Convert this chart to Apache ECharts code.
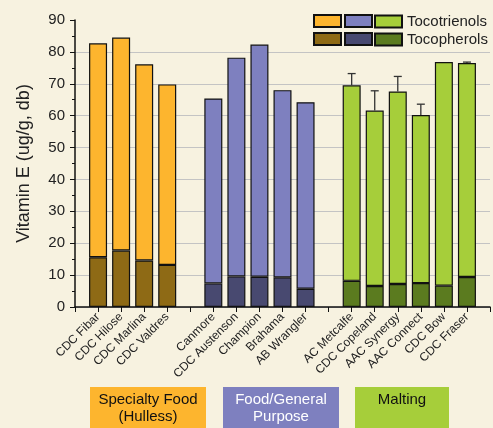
<!DOCTYPE html>
<html>
<head>
<meta charset="utf-8">
<style>html,body{margin:0;padding:0;background:#f7f2e0;}#c{width:493px;height:428px;}</style>
<script src="https://cdn.jsdelivr.net/npm/echarts@6/dist/echarts.min.js"></script>
</head>
<body>
<div id="c"></div>
<script>
const categories = ['', 'CDC Fibar', 'CDC Hilose', 'CDC Marlina', 'CDC Valdres', '',
  'Canmore', 'CDC Austenson', 'Champion', 'Brahama', 'AB Wrangler', '',
  'AC Metcalfe', 'CDC Copeland', 'AAC Synergy', 'AAC Connect', 'CDC Bow', 'CDC Fraser', ''];
const groupOf = [-1, 0, 0, 0, 0, -1, 1, 1, 1, 1, 1, -1, 2, 2, 2, 2, 2, 2, -1];
const tocopherols = [null, 15.6, 17.7, 14.6, 13.2, null, 7.4, 9.6, 9.5, 9.3, 5.7, null, 8.2, 6.6, 7.2, 7.5, 6.7, 9.4, null];
const tocotrienols = [null, 67.1, 66.8, 61.5, 56.6, null, 58.0, 68.6, 72.8, 58.7, 58.5, null, 61.3, 55.0, 60.4, 52.7, 70.1, 67.1, null];
const errorUpper = [null, null, null, null, null, null, null, null, null, null, null, null, 3.7, 6.2, 4.7, 3.4, 0, 0.3, null];
const groupNames = ['Specialty', 'Food', 'Malting'];
const triColors = ['#fdb52e', '#7e80bf', '#a6ce3a'];
const pherColors = ['#8e6a15', '#484970', '#5b7b1f'];
const boxLabels = ['Specialty Food\n(Hulless)', 'Food/General\nPurpose', 'Malting'];

const FONT = 'Liberation Sans, Arial, sans-serif';
const series = [];
const legends = [];
const swLeft = [313, 344, 374];
groupNames.forEach((g, gi) => {
  const pick = arr => arr.map((v, i) => (groupOf[i] === gi && v != null) ? v : '-');
  series.push({
    name: g + ' Tocopherols', type: 'bar', stack: g, data: pick(tocopherols),
    barWidth: 18, barGap: '-100%',
    itemStyle: {color: pherColors[gi], borderColor: '#111', borderWidth: 1.2}
  });
  series.push({
    name: g + ' Tocotrienols', type: 'bar', stack: g, data: pick(tocotrienols),
    barWidth: 18, barGap: '-100%',
    itemStyle: {color: triColors[gi], borderColor: '#111', borderWidth: 1.2}
  });
  [[g + ' Tocotrienols', 14, 'Tocotrienols'], [g + ' Tocopherols', 32, 'Tocopherols']].forEach(([nm, top, txt]) => {
    legends.push({
      left: swLeft[gi], top: top, padding: 0, itemWidth: 27, itemHeight: 12,
      icon: 'rect', selectedMode: false, data: [nm],
      formatter: () => (gi === 2 ? txt : ''),
      textStyle: {fontSize: 15, color: '#222', fontFamily: FONT}
    });
  });
});

const errData = [];
errorUpper.forEach((e, i) => {
  if (e != null && e > 0) errData.push([i, tocopherols[i] + tocotrienols[i], e]);
});
series.push({
  type: 'custom', z: 10, silent: true, data: errData,
  renderItem: (params, api) => {
    const x = api.value(0), base = api.value(1), e = api.value(2);
    const p0 = api.coord([x, base]);
    const p1 = api.coord([x, base + e]);
    const st = {stroke: '#333', lineWidth: 1.3};
    return {type: 'group', children: [
      {type: 'line', shape: {x1: p0[0], y1: p0[1], x2: p1[0], y2: p1[1]}, style: st},
      {type: 'line', shape: {x1: p1[0] - 4, y1: p1[1], x2: p1[0] + 4, y2: p1[1]}, style: st}
    ]};
  }
});

const boxes = [[90, 116], [223, 116], [355, 94]];
const graphic = boxes.map((b, i) => ({
  type: 'group', left: b[0], top: 387,
  children: [
    {type: 'rect', shape: {x: 0, y: 0, width: b[1], height: 41}, style: {fill: triColors[i]}},
    {type: 'text', x: b[1] / 2, y: 4, style: {text: boxLabels[i], fill: i === 1 ? '#fff' : '#111',
      font: '15px ' + FONT, textAlign: 'center', lineHeight: 17}}
  ]
}));

const chart = echarts.init(document.getElementById('c'));
chart.setOption({
  backgroundColor: '#f7f2e0',
  animation: false,
  textStyle: {fontFamily: FONT},
  grid: {left: 75, right: 3, top: 20, bottom: 121, containLabel: false},
  legend: legends,
  xAxis: {
    type: 'category', data: categories, boundaryGap: false,
    axisLine: {lineStyle: {color: '#111', width: 1.5}},
    axisTick: {show: true, interval: 0, length: 5, lineStyle: {color: '#111'}},
    axisLabel: {interval: 0, rotate: 45, fontSize: 12, color: '#222', margin: 8, fontFamily: FONT},
    splitLine: {show: false}
  },
  yAxis: {
    type: 'value', min: 0, max: 90, interval: 10,
    name: 'Vitamin E (ug/g, db)', nameLocation: 'middle', nameGap: 42,
    nameTextStyle: {fontSize: 18, color: '#222', fontFamily: FONT},
    axisLine: {show: true, lineStyle: {color: '#111', width: 1.5}},
    axisTick: {show: true, length: 5, lineStyle: {color: '#111'}},
    minorTick: {show: true, splitNumber: 2, length: 3, lineStyle: {color: '#111'}},
    axisLabel: {fontSize: 15, color: '#222', margin: 10, fontFamily: FONT},
    splitLine: {show: true, showMaxLine: false, lineStyle: {color: '#c4c4c4', width: 1}}
  },
  series: series,
  graphic: graphic
});
</script>
</body>
</html>
